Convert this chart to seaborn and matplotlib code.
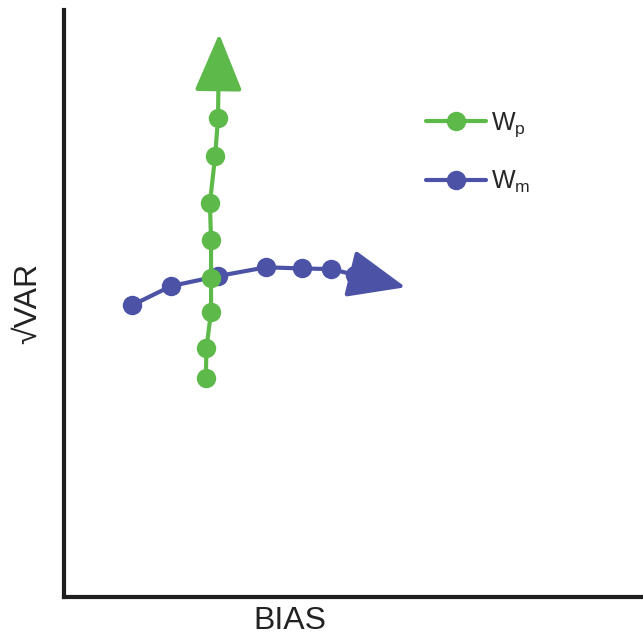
import numpy as np
import pandas as pd
import seaborn as sns
import matplotlib.pyplot as plt
from matplotlib.lines import Line2D

# conceptual bias / variance trajectories (arbitrary units, axes span 0..10)
wp_bias = [2.45, 2.46, 2.54, 2.54, 2.54, 2.52, 2.61, 2.66]
wp_sqrt_var = [3.73, 4.24, 4.86, 5.43, 6.08, 6.71, 7.51, 8.16]
wp_tip = (2.68, 9.60)

wm_bias = [1.17, 1.85, 2.66, 3.49, 4.11, 4.61, 5.03]
wm_sqrt_var = [4.97, 5.30, 5.47, 5.62, 5.60, 5.59, 5.49]
wm_tip = (5.90, 5.28)

labels = ["$\\mathregular{W_p}$", "$\\mathregular{W_m}$"]
colors = ["#5dba4a", "#4c53a6"]

sns.set_style("white")
plt.rcParams['font.family'] = ['Liberation Sans', 'DejaVu Sans']
plt.rcParams['mathtext.fontset'] = 'custom'
plt.rcParams['mathtext.rm'] = 'Liberation Sans'

fig = plt.figure(figsize=(6.43, 6.37), dpi=100)
ax = fig.add_axes([0.0995, 0.0628, 0.9005, 0.921])

df = pd.concat([
    pd.DataFrame({"bias": wm_bias, "svar": wm_sqrt_var, "w": "m"}),
    pd.DataFrame({"bias": wp_bias, "svar": wp_sqrt_var, "w": "p"}),
])

for key, color, tip, z in [("m", colors[1], wm_tip, 2), ("p", colors[0], wp_tip, 3)]:
    sub = df[df["w"] == key]
    sns.lineplot(data=sub, x="bias", y="svar", sort=False, estimator=None, ax=ax,
                 color=color, linewidth=3, marker="o", markersize=14,
                 markeredgewidth=0, zorder=z, legend=False)
    last = (sub["bias"].iloc[-1], sub["svar"].iloc[-1])
    ax.annotate("", xy=tip, xytext=last,
                arrowprops=dict(arrowstyle="-|>,head_length=36,head_width=15",
                                mutation_scale=1, color=color, lw=3,
                                shrinkA=0, shrinkB=0),
                zorder=z)

ax.set_xlim(0, 10)
ax.set_ylim(0, 10)
ax.set_xticks([])
ax.set_yticks([])
sns.despine(ax=ax)
for s in ["left", "bottom"]:
    ax.spines[s].set_linewidth(3)
    ax.spines[s].set_color("#1e1e1e")
    ax.spines[s].set_capstyle("projecting")

ax.set_xlabel("BIAS", fontsize=23, color="#222222")
ax.xaxis.set_label_coords(0.39, -0.015)
ax.xaxis.label.set_va("top")
ax.set_ylabel("√VAR", fontsize=23, color="#222222")
ax.yaxis.set_label_coords(-0.037, 0.5)

handles = [Line2D([], [], color=c, lw=3, marker="o", markersize=14, markeredgewidth=0) for c in colors]
ax.legend(handles, labels, loc="upper left", bbox_to_anchor=(0.625, 0.83), frameon=False,
          fontsize=18, handlelength=2.4, handletextpad=0.2, labelspacing=1.2,
          borderaxespad=0, borderpad=0)

fig.savefig("out.png", dpi=100)
